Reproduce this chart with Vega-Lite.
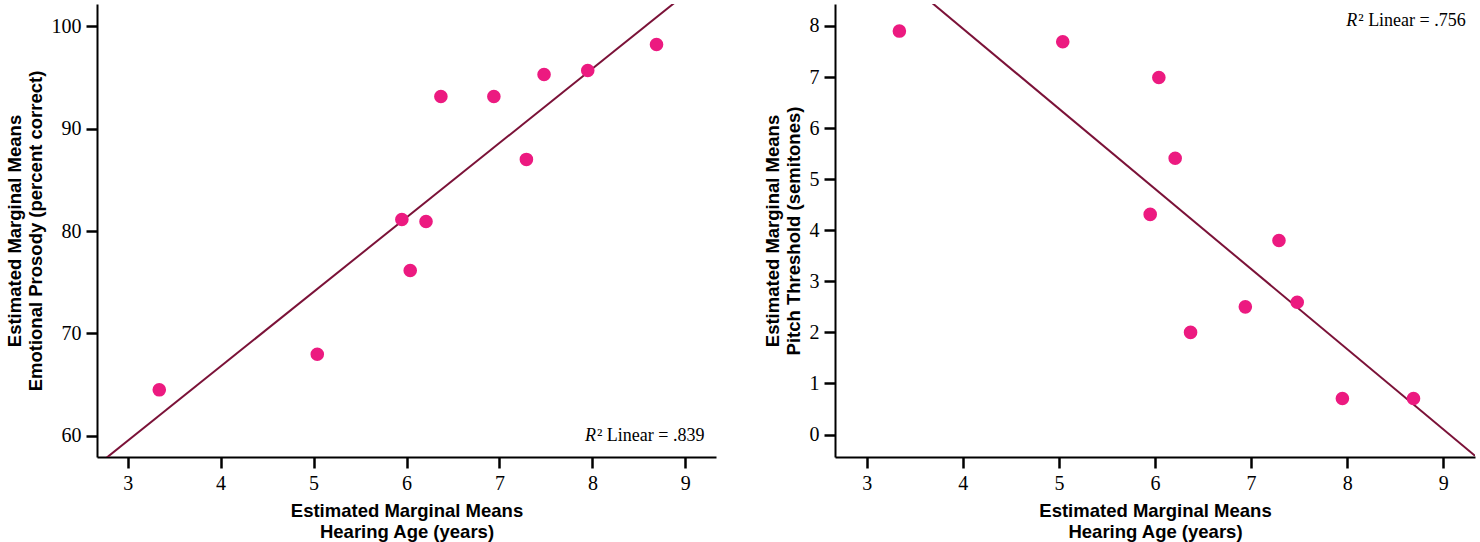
{
  "$schema": "https://vega.github.io/schema/vega-lite/v6.json",
  "padding": {"left": 5, "top": 4, "right": 5, "bottom": 5},
  "background": "white",
  "spacing": 47,
  "config": {
    "view": {"stroke": null},
    "axis": {
      "grid": false,
      "domainColor": "black",
      "domainWidth": 2,
      "tickColor": "black",
      "tickWidth": 2.5,
      "tickSize": 11,
      "labelFont": "Liberation Serif",
      "labelFontSize": 20,
      "labelColor": "black",
      "titleFont": "Liberation Sans",
      "titleFontWeight": "bold",
      "titleFontSize": 18.5,
      "titleColor": "black",
      "titleLineHeight": 21
    },
    "axisX": {"labelPadding": 5, "titlePadding": 8, "format": "d"},
    "axisY": {"labelPadding": 5, "titlePadding": 6, "format": "d"}
  },
  "datasets": {
    "pts": [
      {"age": 3.34, "emo": 64.47, "pitch": 7.90},
      {"age": 5.04, "emo": 67.95, "pitch": 7.69},
      {"age": 5.95, "emo": 81.12, "pitch": 4.31},
      {"age": 6.04, "emo": 76.14, "pitch": 6.99},
      {"age": 6.21, "emo": 80.93, "pitch": 5.41},
      {"age": 6.37, "emo": 93.15, "pitch": 2.00},
      {"age": 6.94, "emo": 93.15, "pitch": 2.50},
      {"age": 7.29, "emo": 87.00, "pitch": 3.80},
      {"age": 7.48, "emo": 95.30, "pitch": 2.59},
      {"age": 7.95, "emo": 95.70, "pitch": 0.705},
      {"age": 8.69, "emo": 98.24, "pitch": 0.705}
    ],
    "notes": [
      {"panel": "emo", "r": "R", "rest": "²  Linear = .839"},
      {"panel": "pitch", "r": "R", "rest": "² Linear = .756"}
    ]
  },
  "hconcat": [
    {
      "width": 619,
      "height": 453,
      "layer": [
        {
          "data": {"name": "pts"},
          "transform": [{"regression": "emo", "on": "age", "extent": [2.67, 9.33]}],
          "mark": {"type": "line", "color": "#7b1238", "strokeWidth": 2, "clip": true},
          "encoding": {
            "x": {"field": "age", "type": "quantitative",
                  "scale": {"domain": [2.67, 9.33], "nice": false, "zero": false},
                  "axis": {"values": [3,4,5,6,7,8,9], "title": ["Estimated Marginal Means", "Hearing Age (years)"]}},
            "y": {"field": "emo", "type": "quantitative",
                  "scale": {"domain": [57.9, 102.2], "nice": false, "zero": false},
                  "axis": {"values": [60,70,80,90,100], "title": ["Estimated Marginal Means", "Emotional Prosody (percent correct)"]}}
          }
        },
        {
          "data": {"name": "pts"},
          "mark": {"type": "point", "filled": true, "size": 185, "opacity": 1, "color": "#ec1a80"},
          "encoding": {
            "x": {"field": "age", "type": "quantitative"},
            "y": {"field": "emo", "type": "quantitative"}
          }
        },
        {
          "data": {"name": "notes"},
          "transform": [{"filter": "datum.panel === 'emo'"}],
          "mark": {"type": "text", "font": "Liberation Serif", "fontStyle": "italic", "fontSize": 18, "align": "left", "baseline": "middle", "color": "black"},
          "encoding": {"x": {"datum": 7.92, "type": "quantitative"}, "y": {"datum": 60.0, "type": "quantitative"}, "text": {"field": "r", "type": "nominal"}}
        },
        {
          "data": {"name": "notes"},
          "transform": [{"filter": "datum.panel === 'emo'"}],
          "mark": {"type": "text", "font": "Liberation Serif", "fontSize": 18, "align": "left", "baseline": "middle", "color": "black", "dx": 12},
          "encoding": {"x": {"datum": 7.92, "type": "quantitative"}, "y": {"datum": 60.0, "type": "quantitative"}, "text": {"field": "rest", "type": "nominal"}}
        }
      ]
    },
    {
      "width": 640,
      "height": 453,
      "layer": [
        {
          "data": {"name": "pts"},
          "transform": [{"regression": "pitch", "on": "age", "extent": [2.67, 9.33]}],
          "mark": {"type": "line", "color": "#7b1238", "strokeWidth": 2, "clip": true},
          "encoding": {
            "x": {"field": "age", "type": "quantitative",
                  "scale": {"domain": [2.67, 9.33], "nice": false, "zero": false},
                  "axis": {"values": [3,4,5,6,7,8,9], "title": ["Estimated Marginal Means", "Hearing Age (years)"]}},
            "y": {"field": "pitch", "type": "quantitative",
                  "scale": {"domain": [-0.44, 8.43], "nice": false, "zero": false},
                  "axis": {"values": [0,1,2,3,4,5,6,7,8], "title": ["Estimated Marginal Means", "Pitch Threshold (semitones)"]}}
          }
        },
        {
          "data": {"name": "pts"},
          "mark": {"type": "point", "filled": true, "size": 185, "opacity": 1, "color": "#ec1a80"},
          "encoding": {
            "x": {"field": "age", "type": "quantitative"},
            "y": {"field": "pitch", "type": "quantitative"}
          }
        },
        {
          "data": {"name": "notes"},
          "transform": [{"filter": "datum.panel === 'pitch'"}],
          "mark": {"type": "text", "font": "Liberation Serif", "fontStyle": "italic", "fontSize": 18, "align": "left", "baseline": "middle", "color": "black"},
          "encoding": {"x": {"datum": 7.99, "type": "quantitative"}, "y": {"datum": 8.09, "type": "quantitative"}, "text": {"field": "r", "type": "nominal"}}
        },
        {
          "data": {"name": "notes"},
          "transform": [{"filter": "datum.panel === 'pitch'"}],
          "mark": {"type": "text", "font": "Liberation Serif", "fontSize": 18, "align": "left", "baseline": "middle", "color": "black", "dx": 12},
          "encoding": {"x": {"datum": 7.99, "type": "quantitative"}, "y": {"datum": 8.09, "type": "quantitative"}, "text": {"field": "rest", "type": "nominal"}}
        }
      ]
    }
  ]
}
